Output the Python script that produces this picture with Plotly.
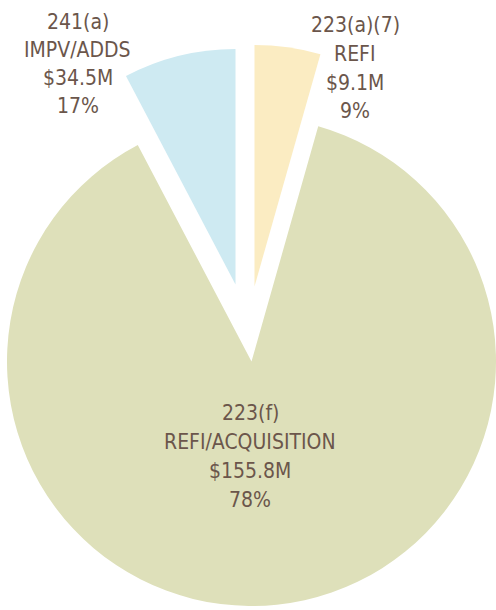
import plotly.graph_objects as go

W, H = 496, 610

# ---- data ----
programs = ["223(a)(7)", "223(f)", "241(a)"]
purposes = ["REFI", "REFI/ACQUISITION", "IMPV/ADDS"]
amounts = ["$9.1M", "$155.8M", "$34.5M"]
pct_labels = ["9%", "78%", "17%"]
# angular share of each slice as drawn in the picture (clockwise from 12 o'clock)
slice_shares = [4.4, 87.9, 7.7]
colors = ["#FBECC2", "#DEE0BA", "#CEEAF2"]

# ---- layout (pixel centre / radius of each exploded slice) ----
slice_geom = {
    1: (251.5, 361.5, 244.5),
    2: (235.5, 284.5, 235.5),
    0: (254.5, 286.5, 241.5),
}
# label block: x centre and y of each of the four text lines (pixels)
label_pos = {
    0: (355.0, [24, 53, 82, 110.5]),
    1: (250.5, [412, 441, 470, 498.5]),
    2: (77.5, [21, 49, 77, 105]),
}
FONT = "DejaVu Sans Condensed, Liberation Sans Narrow, Arial Narrow, sans-serif"
TEXT_COLOR = "#6B564B"
FONT_SIZE = 21


def clamp(v):
    return min(1.0, max(0.0, v))


def domain(cx, cy, r):
    return dict(
        x=[clamp((cx - r) / W), clamp((cx + r) / W)],
        y=[clamp(1 - (cy + r) / H), clamp(1 - (cy - r) / H)],
    )


fig = go.Figure()
for idx in [1, 2, 0]:
    cx, cy, r = slice_geom[idx]
    trace_colors = [c if i == idx else "rgba(0,0,0,0)" for i, c in enumerate(colors)]
    fig.add_trace(
        go.Pie(
            values=slice_shares,
            labels=[f"{p} {q}" for p, q in zip(programs, purposes)],
            sort=False,
            direction="clockwise",
            rotation=0,
            marker=dict(colors=trace_colors, line=dict(width=0)),
            textinfo="none",
            hoverinfo="skip",
            showlegend=False,
            domain=domain(cx, cy, r),
        )
    )

for i in range(len(programs)):
    x, ys = label_pos[i]
    lines = [programs[i], purposes[i], amounts[i], pct_labels[i]]
    for line, y in zip(lines, ys):
        fig.add_annotation(
            x=x / W,
            y=1 - (y + 1) / H,
            xref="paper",
            yref="paper",
            xanchor="center",
            yanchor="middle",
            showarrow=False,
            text=line,
            font=dict(family=FONT, size=FONT_SIZE, color=TEXT_COLOR),
        )

fig.update_layout(
    width=W,
    height=H,
    margin=dict(l=0, r=0, t=0, b=0),
    paper_bgcolor="white",
    plot_bgcolor="white",
    showlegend=False,
)

fig.write_html(
    "out.html",
    config={"displayModeBar": False},
    post_script="document.body.style.margin='0';document.body.style.overflow='hidden';",
)
